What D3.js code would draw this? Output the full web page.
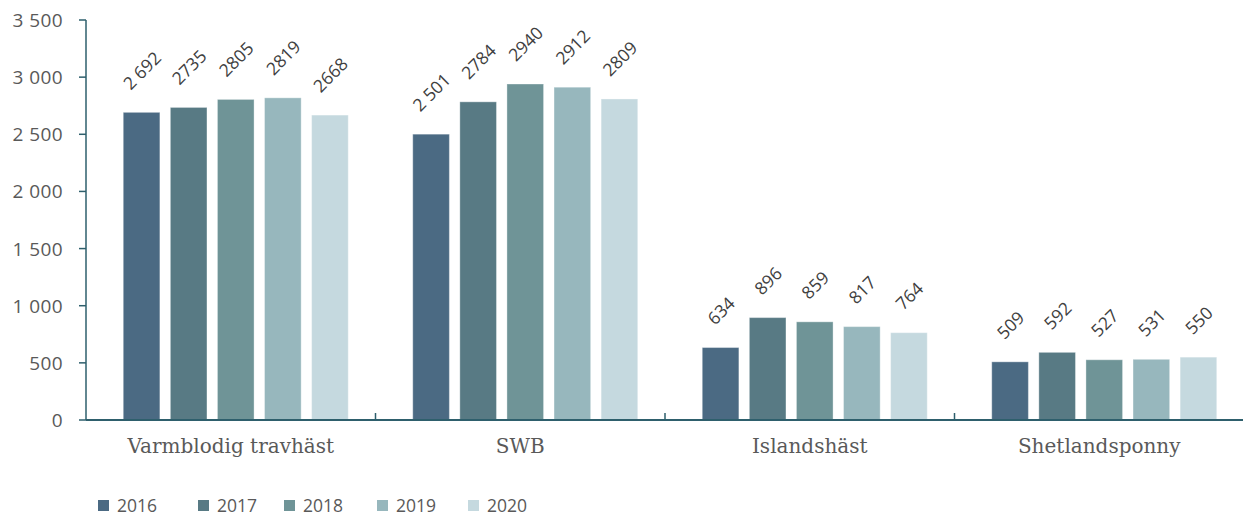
<!DOCTYPE html>
<html><head><meta charset="utf-8">
<script src="https://cdn.jsdelivr.net/npm/d3@7"></script>
<style>body{margin:0;background:#fff}</style>
</head><body>
<svg id="c" width="1243" height="516"></svg>
<script>
const categories = ["Varmblodig travhäst", "SWB", "Islandshäst", "Shetlandsponny"];
const years = ["2016", "2017", "2018", "2019", "2020"];
const v2016 = [2692, 2501, 634, 509];
const v2017 = [2735, 2784, 896, 592];
const v2018 = [2805, 2940, 859, 527];
const v2019 = [2819, 2912, 817, 531];
const v2020 = [2668, 2809, 764, 550];
const labels2016 = ["2 692", "2 501", "634", "509"];
const labels2017 = ["2735", "2784", "896", "592"];
const labels2018 = ["2805", "2940", "859", "527"];
const labels2019 = ["2819", "2912", "817", "531"];
const labels2020 = ["2668", "2809", "764", "550"];
const yTicks = [0, 500, 1000, 1500, 2000, 2500, 3000, 3500];
const colors = ["#4b6a83", "#587a84", "#6f9497", "#97b7bd", "#c5d9df"];

const series = [v2016, v2017, v2018, v2019, v2020];
const seriesLabels = [labels2016, labels2017, labels2018, labels2019, labels2020];

(function() {
const svg = d3.select("#c");
const mLeft = 86, mRight = 1244, mTop = 20, mBottom = 420;
const axisColor = "#2e5f6c";
const sans = "'Open Sans', Lato, sans-serif";

const x0 = d3.scaleBand().domain(categories).range([mLeft, mRight]).paddingInner(0).paddingOuter(0);
const x1 = d3.scaleBand().domain(years).range([0, 225]).paddingInner(10/45).paddingOuter(0);
const y = d3.scaleLinear().domain([0, 3500]).range([mBottom, mTop]);
const fmt = v => d3.format(",")(v).replace(/,/g, " ");

const groups = svg.append("g").selectAll("g").data(categories).join("g")
  .attr("transform", (d) => `translate(${x0(d) + (x0.bandwidth() - 215) / 2},0)`);

groups.each(function(cat, ci) {
  const g = d3.select(this);
  years.forEach((yr, si) => {
    const v = series[si][ci];
    g.append("rect")
      .attr("x", x1(yr))
      .attr("y", y(v))
      .attr("width", x1.bandwidth())
      .attr("height", y(0) - y(v))
      .attr("fill", colors[si])
      .attr("stroke", "#ffffff").attr("stroke-opacity", 0.35).attr("stroke-width", 1);
    const t = g.append("text")
      .text(seriesLabels[si][ci])
      .attr("font-family", sans)
      .attr("font-size", 17.5)
      .attr("fill", "#404040")
      .attr("text-anchor", "middle")
      .attr("dominant-baseline", "central");
    const len = t.node().getComputedTextLength();
    const half = (len * Math.SQRT1_2 + 13 * Math.SQRT1_2) / 2;
    const cx = x1(yr) + x1.bandwidth() / 2;
    const cy = y(v) - 22 - half;
    t.attr("transform", `translate(${cx},${cy}) rotate(-45)`);
  });
});

const yAxis = svg.append("g");
yAxis.append("line").attr("x1", mLeft).attr("x2", mLeft).attr("y1", y(3500)).attr("y2", mBottom)
  .attr("stroke", axisColor).attr("stroke-width", 1.5);
yAxis.selectAll("line.tick").data(yTicks).join("line")
  .attr("class", "tick")
  .attr("x1", mLeft - 7).attr("x2", mLeft)
  .attr("y1", d => y(d)).attr("y2", d => y(d))
  .attr("stroke", axisColor).attr("stroke-width", 1.5);
yAxis.selectAll("text").data(yTicks).join("text")
  .attr("x", 63).attr("y", d => y(d))
  .attr("text-anchor", "end").attr("dominant-baseline", "central")
  .attr("font-family", sans).attr("font-size", 19).attr("letter-spacing", 0.4)
  .attr("fill", "#595959")
  .text(d => fmt(d));

svg.append("line").attr("x1", mLeft).attr("x2", mRight).attr("y1", mBottom).attr("y2", mBottom)
  .attr("stroke", axisColor).attr("stroke-width", 2);
svg.selectAll("line.xt").data(categories.slice(1)).join("line")
  .attr("class", "xt")
  .attr("x1", d => x0(d)).attr("x2", d => x0(d))
  .attr("y1", mBottom - 7).attr("y2", mBottom)
  .attr("stroke", axisColor).attr("stroke-width", 1.5);
svg.selectAll("text.cat").data(categories).join("text")
  .attr("class", "cat")
  .attr("x", d => x0(d) + x0.bandwidth() / 2)
  .attr("y", 453)
  .attr("text-anchor", "middle")
  .attr("font-family", "'DejaVu Serif', 'Liberation Serif', serif")
  .attr("font-size", 20)
  .attr("fill", "#595959")
  .text(d => d);

const legendX = [98, 198, 284, 377, 468];
const lg = svg.append("g").selectAll("g").data(years).join("g")
  .attr("transform", (d, i) => `translate(${legendX[i]},505)`);
lg.append("rect").attr("x", 0).attr("y", -5).attr("width", 11).attr("height", 11)
  .attr("fill", (d, i) => colors[i]);
lg.append("text").attr("x", 19).attr("y", 0).attr("dominant-baseline", "central")
  .attr("font-family", sans).attr("font-size", 17.5)
  .attr("fill", "#595959").text(d => d);
})();
</script>
</body></html>
